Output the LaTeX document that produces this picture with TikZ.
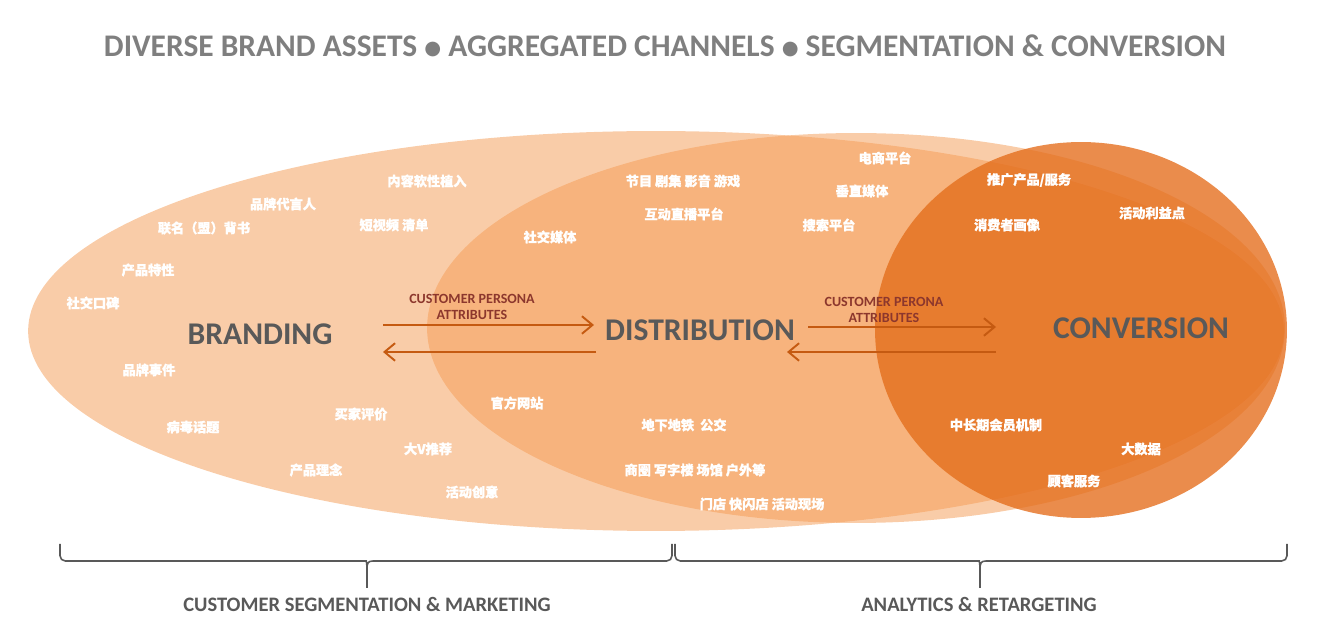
\documentclass[tikz,border=0pt]{standalone}
\usepackage{fontspec}
\setmainfont{Carlito}
\newfontfamily\cjk{Noto Sans CJK SC}[BoldFeatures={FakeBold=1.2}]
\newfontfamily\symfont{DejaVu Sans}
\usetikzlibrary{arrows.meta}

\definecolor{peach}{RGB}{244,154,82}
\definecolor{deeporange}{RGB}{228,108,26}
\definecolor{labelgray}{RGB}{89,89,89}
\definecolor{titlegray}{RGB}{127,127,127}
\definecolor{arrowbrown}{RGB}{197,90,17}
\definecolor{personared}{RGB}{140,55,45}

\newcommand{\dotsep}{\raisebox{1pt}{\symfont\fontsize{11}{11}\selectfont ●}}

\begin{document}
\begin{tikzpicture}[x=0.02cm,y=-0.02cm,>={Straight Barb[length=6pt,width=10pt]},
    zone/.style={fill=peach,fill opacity=0.5},
    tag node/.style={font=\cjk\bfseries\fontsize{7.5}{9}\selectfont,text=white,inner sep=0pt},
    main node/.style={font=\bfseries\fontsize{18}{21}\selectfont,text=labelgray},
    note node/.style={font=\bfseries\fontsize{8}{9.4}\selectfont,text=personared,align=center,inner sep=0pt},
    foot node/.style={font=\bfseries\fontsize{11.7}{14}\selectfont,text=labelgray},
    flow/.style={->,draw=arrowbrown,line width=1.1pt},
    brace line/.style={draw=labelgray,line width=0.9pt}]
  \useasboundingbox (0,0) rectangle (1323,641);

  \node[font=\bfseries\fontsize{17.9}{20}\selectfont,text=titlegray] (title) at (665,46)
    {DIVERSE BRAND ASSETS \dotsep{} AGGREGATED CHANNELS \dotsep{} SEGMENTATION \& CONVERSION};

  % the three zones
  \fill[zone] (656,331) ellipse [x radius=12.56cm,y radius=4cm];
  \fill[zone] (856,328) ellipse [x radius=8.58cm,y radius=3.9cm];
  \fill[deeporange,fill opacity=0.78] (1081,330) ellipse [x radius=4.12cm,y radius=3.76cm];

  \node[main node] (brand) at (260,334) {BRANDING};
  \node[main node] (dist) at (700,330) {DISTRIBUTION};
  \node[main node] (conv) at (1141,328) {CONVERSION};

  % branding
  \node[tag node] (t1) at (427,181) {内容软性植入};
  \node[tag node] (t2) at (283,204) {品牌代言人};
  \node[tag node] (t3) at (204,228) {联名（盟）背书};
  \node[tag node] (t4) at (394,225) {短视频 清单};
  \node[tag node] (t5) at (148,270) {产品特性};
  \node[tag node] (t6) at (93,303) {社交口碑};
  \node[tag node] (t7) at (149,370) {品牌事件};
  \node[tag node] (t8) at (193,427) {病毒话题};
  \node[tag node] (t9) at (361,414) {买家评价};
  \node[tag node] (t10) at (428,449) {大V推荐};
  \node[tag node] (t11) at (316,470) {产品理念};
  \node[tag node] (t12) at (472,492) {活动创意};

  % distribution
  \node[tag node] (d1) at (683,181) {节目 剧集 影音 游戏};
  \node[tag node] (d2) at (684,214) {互动直播平台};
  \node[tag node] (d3) at (550,237) {社交媒体};
  \node[tag node] (d4) at (885,158) {电商平台};
  \node[tag node] (d5) at (862,191) {垂直媒体};
  \node[tag node] (d6) at (829,225) {搜索平台};
  \node[tag node] (d7) at (517,403) {官方网站};
  \node[tag node] (d8) at (684,425) {地下地铁\ \ 公交};
  \node[tag node] (d9) at (695,470) {商圈 写字楼 场馆 户外等};
  \node[tag node] (d10) at (762,504) {门店 快闪店 活动现场};

  % conversion
  \node[tag node] (c1) at (1029,180) {推广产品/服务};
  \node[tag node] (c2) at (1152,213) {活动利益点};
  \node[tag node] (c3) at (1007,225) {消费者画像};
  \node[tag node] (c4) at (996,425) {中长期会员机制};
  \node[tag node] (c5) at (1141,449) {大数据};
  \node[tag node] (c6) at (1074,481) {顾客服务};

  \node[note node] (n1) at (472,307) {CUSTOMER PERSONA\\ATTRIBUTES};
  \node[note node] (n2) at (884,310) {CUSTOMER PERONA\\ATTRIBUTES};

  \coordinate (bd) at (383,325);
  \coordinate (db) at (594,325);
  \coordinate (bd2) at (383,352);
  \coordinate (db2) at (596,352);
  \coordinate (dc) at (808,327);
  \coordinate (cd) at (996,327);
  \coordinate (dc2) at (787,352);
  \coordinate (cd2) at (996,352);
  \draw[flow] (bd) -- (db);
  \draw[flow] (db2) -- (bd2);
  \draw[flow] (dc) -- (cd);
  \draw[flow] (cd2) -- (dc2);

  \foreach \l/\m/\r in {60/367/672,675/980/1287}
    \draw[brace line] (\l,544) [rounded corners=3pt] -- (\l,561) -- (\m-6,561) [sharp corners]
      .. controls (\m-1,561) and (\m,563) .. (\m,569) -- (\m,588)
      (\m,569) .. controls (\m,563) and (\m+1,561) .. (\m+6,561) [rounded corners=3pt]
      -- (\r,561) -- (\r,544);

  \node[foot node] (seg) at (367,604) {CUSTOMER SEGMENTATION \& MARKETING};
  \node[foot node] (ana) at (979,604) {ANALYTICS \& RETARGETING};
\end{tikzpicture}
\end{document}
